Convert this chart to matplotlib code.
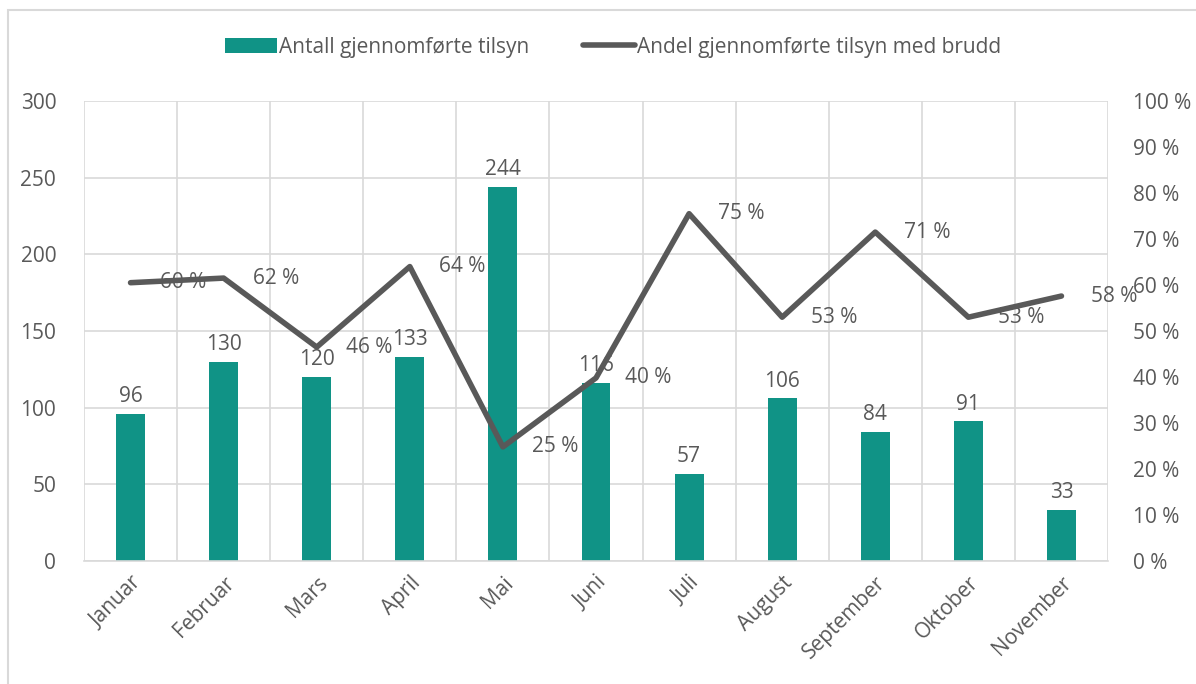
import matplotlib.pyplot as plt
from matplotlib.patches import Rectangle
from matplotlib.ticker import MultipleLocator, FixedLocator
import numpy as np

months = ["Januar", "Februar", "Mars", "April", "Mai", "Juni", "Juli",
          "August", "September", "Oktober", "November"]
tilsyn = [96, 130, 120, 133, 244, 116, 57, 106, 84, 91, 33]
andel_brudd = [0.605, 0.615, 0.465, 0.64, 0.248, 0.398, 0.755, 0.53, 0.715, 0.53, 0.576]
andel_labels = ["60 %", "62 %", "46 %", "64 %", "25 %", "40 %", "75 %",
                "53 %", "71 %", "53 %", "58 %"]

TEAL = "#109386"
LINE = "#595959"
TXT = "#595959"
GRID = "#d9d9d9"
FS = 15

plt.rcParams["font.family"] = ["Open Sans", "DejaVu Sans"]

fig = plt.figure(figsize=(11.96, 6.84), dpi=100)
ax = fig.add_axes([84 / 1196, 1 - 561 / 684, (1108 - 84) / 1196, (561 - 101) / 684])
ax2 = ax.twinx()

x = np.arange(len(months))
bars = ax.bar(x, tilsyn, width=0.31, color=TEAL, zorder=2,
              label="Antall gjennomførte tilsyn")
for xi, v in zip(x, tilsyn):
    ax.annotate(str(v), (xi, v), xytext=(0, 5), textcoords="offset points",
                ha="center", va="bottom", fontsize=FS, color=TXT)

ax.set_xlim(-0.5, len(months) - 0.5)
ax.set_ylim(0, 300)
ax.yaxis.set_major_locator(MultipleLocator(50))
ax.set_xticks(x)
ax.set_xticklabels(months, rotation=45, ha="right", rotation_mode="anchor")
ax.xaxis.set_minor_locator(FixedLocator(np.arange(-0.5, len(months), 1)))
ax.grid(axis="y", color=GRID, lw=1.2, zorder=0)
ax.grid(axis="x", which="minor", color=GRID, lw=1.2, zorder=0)
ax.set_axisbelow(True)
ax.tick_params(axis="both", which="both", length=0, labelsize=FS, colors=TXT)
ax.tick_params(axis="y", pad=20)
ax.tick_params(axis="x", pad=8)

ln, = ax2.plot(x, andel_brudd, color=LINE, lw=4, solid_capstyle="round",
               solid_joinstyle="round", zorder=3,
               label="Andel gjennomførte tilsyn med brudd")
for xi, v, lab in zip(x, andel_brudd, andel_labels):
    ax2.annotate(lab, (xi, v), xytext=(21, 0), textcoords="offset points",
                 ha="left", va="center", fontsize=FS, color=TXT)
ax2.set_ylim(0, 1)
ax2.yaxis.set_major_locator(MultipleLocator(0.1))
ax2.set_yticklabels([f"{int(round(t * 100))} %" for t in ax2.get_yticks()])
ax2.tick_params(axis="y", length=0, labelsize=FS, colors=TXT, pad=18)

for a in (ax, ax2):
    for s in a.spines.values():
        s.set_visible(False)
ax.spines["bottom"].set_visible(True)
ax.spines["bottom"].set_color(GRID)
ax.spines["bottom"].set_linewidth(1.2)

fig.legend([bars, ln], [bars.get_label(), ln.get_label()], loc="center",
           bbox_to_anchor=(0.5125, 1 - 47 / 684), ncol=2, frameon=False,
           fontsize=FS, labelcolor=TXT, handlelength=2.5, handletextpad=0.1,
           columnspacing=2.6)

fig.patches.append(Rectangle((8 / 1196, -0.05), 1.1, 1 - 10 / 684 + 0.05,
                             transform=fig.transFigure, fill=False,
                             edgecolor=GRID, lw=1.5))

fig.savefig("out.png", dpi=100)
